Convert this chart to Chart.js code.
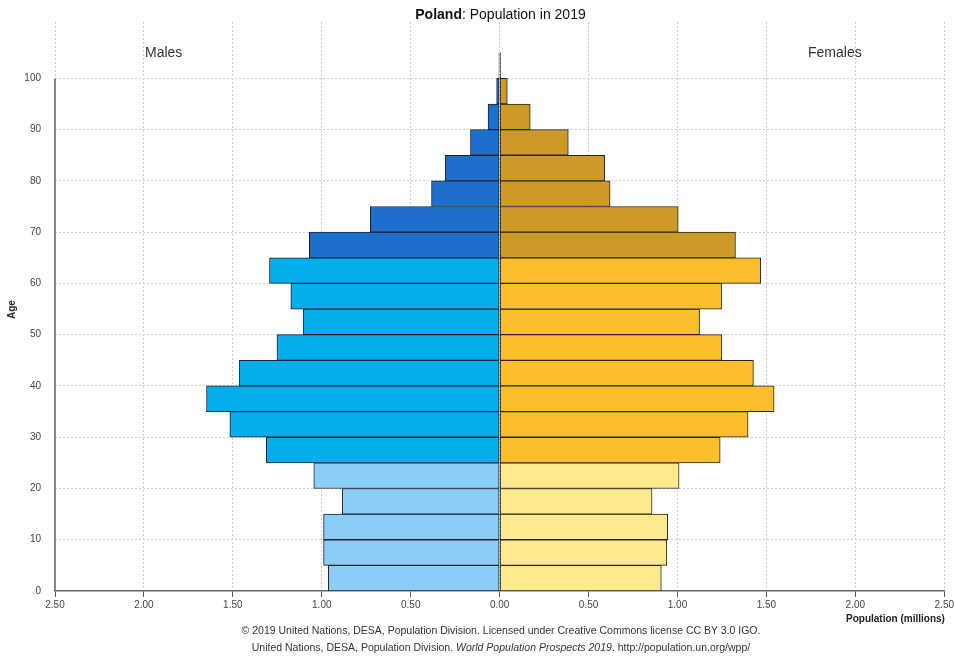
<!DOCTYPE html>
<html>
<head>
<meta charset="utf-8">
<script src="https://cdn.jsdelivr.net/npm/chart.js@4"></script>
<style>
    html, body { margin: 0; padding: 0; background: #fff; }
    #wrap { position: relative; width: 956px; height: 657px; font-family: "Liberation Sans", Arial, sans-serif; color: #222; }
    #chart { position: absolute; left: 0; top: 0; }
    .txt { position: absolute; white-space: nowrap; }
    #title { left: 0; width: 1001px; top: 6px; text-align: center; font-size: 14px; color: #111; }
    #males { left: 145px; top: 44px; font-size: 14px; color: #333; }
    #females { left: 808px; top: 44px; font-size: 14px; color: #333; }
    #xlabel { left: 846px; top: 613px; font-size: 10px; font-weight: bold; color: #222; }
    #ylabel { left: 2px; top: 304px; font-size: 10px; font-weight: bold; color: #222; transform: rotate(-90deg); }
    .foot { left: 0; width: 1002px; text-align: center; font-size: 10.5px; color: #333; }
    #foot1 { top: 624px; }
    #foot2 { top: 641px; }
</style>
</head>
<body>
<div id="wrap">
    <canvas id="chart" width="956" height="657"></canvas>
    <div class="txt" id="title"><b>Poland</b>: Population in 2019</div>
    <div class="txt" id="males">Males</div>
    <div class="txt" id="females">Females</div>
    <div class="txt" id="xlabel">Population (millions)</div>
    <div class="txt" id="ylabel">Age</div>
    <div class="txt foot" id="foot1">© 2019 United Nations, DESA, Population Division. Licensed under Creative Commons license CC BY 3.0 IGO.</div>
    <div class="txt foot" id="foot2">United Nations, DESA, Population Division. <i>World Population Prospects 2019</i>. http://population.un.org/wpp/</div>
</div>
<script>
// age groups (start age of each 5-year group)
const ageGroups = ["0-4", "5-9", "10-14", "15-19", "20-24", "25-29", "30-34", "35-39", "40-44", "45-49",
    "50-54", "55-59", "60-64", "65-69", "70-74", "75-79", "80-84", "85-89", "90-94", "95-99", "100+"];
const ageStart = [0, 5, 10, 15, 20, 25, 30, 35, 40, 45, 50, 55, 60, 65, 70, 75, 80, 85, 90, 95, 100];

// population in millions
const males = [0.963, 0.990, 0.990, 0.885, 1.045, 1.312, 1.517, 1.648, 1.465, 1.252,
    1.105, 1.174, 1.294, 1.070, 0.727, 0.383, 0.306, 0.164, 0.065, 0.017, 0.004];
const females = [0.909, 0.940, 0.945, 0.857, 1.009, 1.240, 1.397, 1.543, 1.427, 1.249,
    1.124, 1.248, 1.468, 1.326, 1.004, 0.621, 0.591, 0.386, 0.172, 0.043, 0.005];

const xTicks = [-2.5, -2, -1.5, -1, -0.5, 0, 0.5, 1, 1.5, 2, 2.5];
const yTicks = [0, 10, 20, 30, 40, 50, 60, 70, 80, 90, 100];

const maleColors = { young: "#8bcdf6", adult: "#05aeeb", old: "#1e6fcc", oldest: "#111111" };
const femaleColors = { young: "#ffe98c", adult: "#fdbe2c", old: "#cd9a27", oldest: "#111111" };

function groupColor(palette) {
    return ctx => {
        const age = ageStart[ctx.dataIndex];
        if (age < 25) return palette.young;
        if (age < 65) return palette.adult;
        if (age < 100) return palette.old;
        return palette.oldest;
    };
}

Chart.defaults.font.family = "'Liberation Sans', Arial, sans-serif";
Chart.defaults.font.size = 10;
Chart.defaults.color = "#444";

// solid y axis line from age 0 to 100
const axisLine = {
    id: "axisLine",
    beforeDatasetsDraw(chart) {
        const { ctx, scales } = chart;
        const x = scales.x.getPixelForValue(-2.5);
        ctx.save();
        ctx.strokeStyle = "#666";
        ctx.lineWidth = 1.5;
        ctx.beginPath();
        ctx.moveTo(x, scales.y.getPixelForValue(0));
        ctx.lineTo(x, scales.y.getPixelForValue(100));
        ctx.stroke();
        ctx.restore();
    }
};

const chart = new Chart(document.getElementById("chart"), {
    type: "bar",
    data: {
        datasets: [
            {
                label: "Males",
                data: males.map((v, i) => ({ x: -v, y: ageStart[i] + 2.5 })),
                backgroundColor: groupColor(maleColors),
                borderColor: "#1d2233",
                borderWidth: 1,
                borderSkipped: false,
                grouped: false,
                barPercentage: 1,
                categoryPercentage: 1
            },
            {
                label: "Females",
                data: females.map((v, i) => ({ x: v, y: ageStart[i] + 2.5 })),
                backgroundColor: groupColor(femaleColors),
                borderColor: "#2a2420",
                borderWidth: 1,
                borderSkipped: false,
                grouped: false,
                barPercentage: 1,
                categoryPercentage: 1
            }
        ]
    },
    options: {
        indexAxis: "y",
        responsive: false,
        animation: false,
        layout: { padding: { left: 0, right: 10, top: 22, bottom: 0 } },
        plugins: {
            legend: { display: false },
            tooltip: { enabled: false }
        },
        scales: {
            x: {
                type: "linear",
                min: -2.5,
                max: 2.5,
                afterBuildTicks: scale => { scale.ticks = xTicks.map(v => ({ value: v })); },
                afterFit: scale => { scale.height = 66; },
                ticks: {
                    callback: v => Math.abs(v).toFixed(2),
                    maxRotation: 0,
                    padding: 2,
                    color: "#444"
                },
                grid: {
                    color: "#cccccc",
                    tickColor: "#555",
                    tickBorderDash: [],
                    tickLength: 6
                },
                border: { display: true, color: "#666", width: 1.5, dash: [2, 2] }
            },
            y: {
                type: "linear",
                offset: false,
                min: 0,
                max: 111,
                afterBuildTicks: scale => { scale.ticks = yTicks.map(v => ({ value: v })); },
                afterFit: scale => { scale.width = 55; },
                ticks: { padding: 14, color: "#444" },
                grid: {
                    offset: false,
                    color: ctx => ctx.tick && ctx.tick.value === 0 ? "rgba(0,0,0,0)" : "#cccccc",
                    drawTicks: false
                },
                border: { display: false, dash: [2, 2] }
            }
        }
    },
    plugins: [axisLine]
});
</script>
</body>
</html>
